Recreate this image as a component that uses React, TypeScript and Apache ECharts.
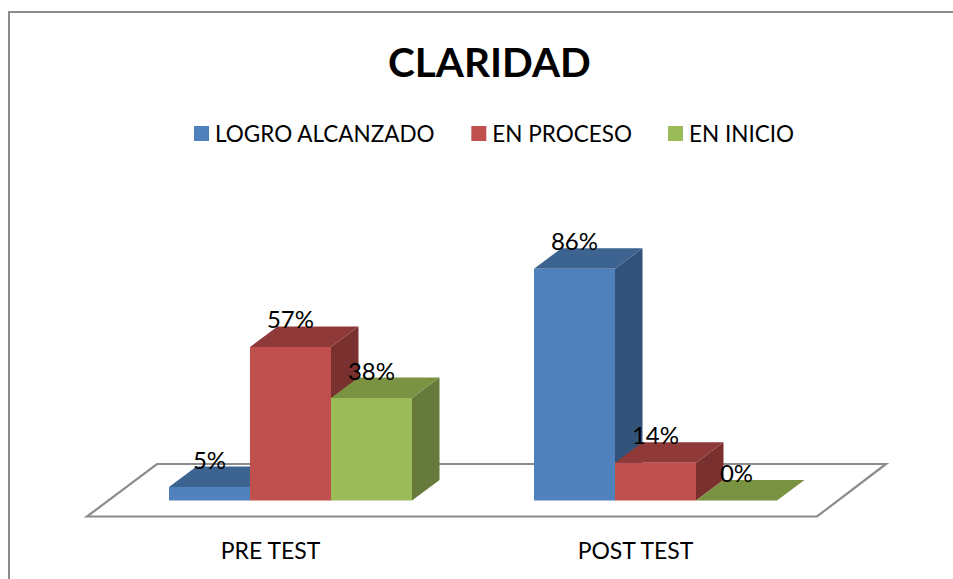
import React, { useEffect, useRef } from "react";
import * as echarts from "echarts";

const title = "CLARIDAD";
const categories = ["PRE TEST", "POST TEST"];
const seriesNames = ["LOGRO ALCANZADO", "EN PROCESO", "EN INICIO"];
const logroAlcanzado = [5, 86];
const enProceso = [57, 14];
const enInicio = [38, 0];

const FONT = "Lato, 'Open Sans', sans-serif";
const FRAME = "#8c8c8c";
const BAR_W = 81;
const DEPTH_X = 27.5;
const DEPTH_Y = 20.5;

const shades = [
  { front: "#4f81bd", top: "#3d6390", side: "#325379" },
  { front: "#c0504d", top: "#8f3a38", side: "#7a302e" },
  { front: "#9bbb59", top: "#7a9342", side: "#667b3b" },
];

function makeSeries(name: string, values: number[], idx: number) {
  const c = shades[idx];
  return {
    name,
    type: "custom",
    coordinateSystem: "cartesian2d",
    itemStyle: { color: c.front },
    data: values.map((v, i) => [i, v]),
    encode: { x: 0, y: 1 },
    renderItem: (_p: any, api: any) => {
      const catIdx = api.value(0);
      const val = api.value(1);
      const [cx, y1] = api.coord([catIdx, val]);
      const [, y0] = api.coord([catIdx, 0]);
      const x0 = cx + (idx - 1.5) * BAR_W;
      const x1 = x0 + BAR_W;
      const poly = (points: number[][], fill: string) => ({
        type: "polygon",
        shape: { points },
        style: { fill },
      });
      return {
        type: "group",
        children: [
          poly(
            [
              [x1, y0],
              [x1 + DEPTH_X, y0 - DEPTH_Y],
              [x1 + DEPTH_X, y1 - DEPTH_Y],
              [x1, y1],
            ],
            c.side,
          ),
          poly(
            [
              [x0, y1],
              [x1, y1],
              [x1 + DEPTH_X, y1 - DEPTH_Y],
              [x0 + DEPTH_X, y1 - DEPTH_Y],
            ],
            c.top,
          ),
          { type: "rect", shape: { x: x0, y: y1, width: BAR_W, height: y0 - y1 }, style: { fill: c.front } },
          {
            type: "text",
            z2: 100,
            style: {
              x: (x0 + x1) / 2,
              y: y1 - 28,
              text: `${val}%`,
              fill: "#000",
              fontFamily: FONT,
              fontSize: 24,
              align: "center",
              verticalAlign: "middle",
            },
          },
        ],
      };
    },
  };
}

export default function App() {
  const ref = useRef<HTMLDivElement>(null);
  useEffect(() => {
    const chart = echarts.init(ref.current!, undefined, { renderer: "svg" });
    chart.setOption({
      animation: false,
      backgroundColor: "#fff",
      title: {
        text: title,
        left: 383,
        top: 36,
        textStyle: { fontFamily: FONT, fontSize: 40.5, fontWeight: "bold", color: "#000" },
      },
      legend: {
        data: seriesNames,
        left: 189,
        top: 117,
        itemWidth: 15,
        itemHeight: 15,
        itemGap: 36,
        icon: "rect",
        textStyle: { fontFamily: FONT, fontSize: 22.5, color: "#000", padding: [0, 0, 0, 1] },
      },
      grid: { left: 108, width: 730, top: 231, height: 269.5 },
      xAxis: {
        type: "category",
        data: categories,
        axisLine: { show: false },
        axisTick: { show: false },
        axisLabel: {
          margin: 38,
          padding: [0, 40, 0, 0],
          fontFamily: FONT,
          fontSize: 23,
          color: "#000",
        },
      },
      yAxis: { type: "value", min: 0, max: 100, show: false },
      graphic: [
        {
          type: "polyline",
          silent: true,
          shape: { points: [[9, 579], [9, 12], [953, 12]] },
          style: { fill: "none", stroke: FRAME, lineWidth: 2 },
        },
        {
          type: "polygon",
          silent: true,
          z: 0,
          shape: { points: [[87, 516.5], [817, 516.5], [886, 464], [157, 464]] },
          style: { fill: "#fff", stroke: FRAME, lineWidth: 2.2 },
        },
      ],
      series: [
        makeSeries(seriesNames[0], logroAlcanzado, 0),
        makeSeries(seriesNames[1], enProceso, 1),
        makeSeries(seriesNames[2], enInicio, 2),
      ],
    });
    return () => chart.dispose();
  }, []);
  return <div ref={ref} style={{ position: "absolute", left: 0, top: 0, width: 953, height: 579 }} />;
}
